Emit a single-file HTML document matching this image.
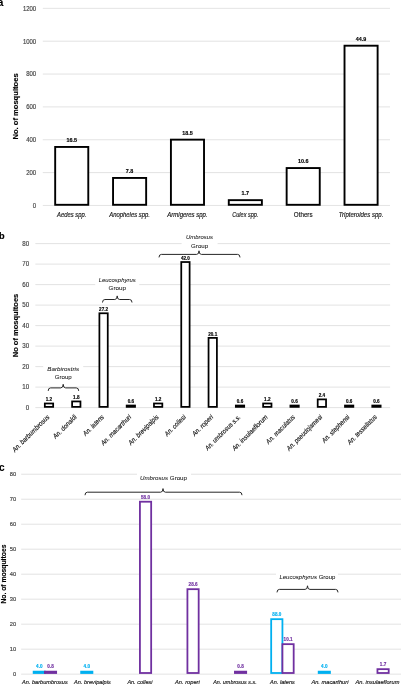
<!DOCTYPE html>
<html><head><meta charset="utf-8"><style>
html,body{margin:0;padding:0;background:#fff;}
body{width:401px;height:685px;overflow:hidden;}
svg{display:block;font-family:"Liberation Sans", sans-serif;will-change:transform;}
</style></head><body>
<svg width="401" height="685" viewBox="0 0 401 685">
<line x1="42.80" y1="205.45" x2="390.00" y2="205.45" stroke="#d9d9d9" stroke-width="0.75"/>
<text x="36.20" y="207.75" font-size="6.5" text-anchor="end" fill="#404040" stroke="#404040" stroke-width="0.15" textLength="3.33" lengthAdjust="spacingAndGlyphs" >0</text>
<line x1="42.80" y1="172.60" x2="390.00" y2="172.60" stroke="#d9d9d9" stroke-width="0.75"/>
<text x="36.20" y="174.90" font-size="6.5" text-anchor="end" fill="#404040" stroke="#404040" stroke-width="0.15" textLength="9.99" lengthAdjust="spacingAndGlyphs" >200</text>
<line x1="42.80" y1="139.75" x2="390.00" y2="139.75" stroke="#d9d9d9" stroke-width="0.75"/>
<text x="36.20" y="142.05" font-size="6.5" text-anchor="end" fill="#404040" stroke="#404040" stroke-width="0.15" textLength="9.99" lengthAdjust="spacingAndGlyphs" >400</text>
<line x1="42.80" y1="106.90" x2="390.00" y2="106.90" stroke="#d9d9d9" stroke-width="0.75"/>
<text x="36.20" y="109.20" font-size="6.5" text-anchor="end" fill="#404040" stroke="#404040" stroke-width="0.15" textLength="9.99" lengthAdjust="spacingAndGlyphs" >600</text>
<line x1="42.80" y1="74.05" x2="390.00" y2="74.05" stroke="#d9d9d9" stroke-width="0.75"/>
<text x="36.20" y="76.35" font-size="6.5" text-anchor="end" fill="#404040" stroke="#404040" stroke-width="0.15" textLength="9.99" lengthAdjust="spacingAndGlyphs" >800</text>
<line x1="42.80" y1="41.20" x2="390.00" y2="41.20" stroke="#d9d9d9" stroke-width="0.75"/>
<text x="36.20" y="43.50" font-size="6.5" text-anchor="end" fill="#404040" stroke="#404040" stroke-width="0.15" textLength="13.32" lengthAdjust="spacingAndGlyphs" >1000</text>
<line x1="42.80" y1="8.35" x2="390.00" y2="8.35" stroke="#d9d9d9" stroke-width="0.75"/>
<text x="36.20" y="10.65" font-size="6.5" text-anchor="end" fill="#404040" stroke="#404040" stroke-width="0.15" textLength="13.32" lengthAdjust="spacingAndGlyphs" >1200</text>
<text x="-2.60" y="5.70" font-size="10.5" text-anchor="start" font-weight="bold" fill="#000000" stroke="#000000" stroke-width="0.15" >a</text>
<text x="17.90" y="106.50" font-size="6.9" text-anchor="middle" font-weight="bold" fill="#000000" stroke="#000000" stroke-width="0.15" textLength="66.20" lengthAdjust="spacingAndGlyphs" transform="rotate(-90 17.90 106.50)" >No. of mosquitoes</text>
<rect x="55.18" y="146.95" width="33.10" height="57.85" fill="#fff" stroke="#000" stroke-width="1.9"/>
<text x="71.73" y="141.90" font-size="5.4" text-anchor="middle" font-weight="bold" fill="#000000" stroke="#000000" stroke-width="0.15" >16.5</text>
<text x="71.73" y="216.80" font-size="6.4" text-anchor="middle" font-style="italic" fill="#141414" stroke="#141414" stroke-width="0.15" textLength="29.30" lengthAdjust="spacingAndGlyphs" >Aedes spp.</text>
<rect x="113.05" y="177.95" width="33.10" height="26.85" fill="#fff" stroke="#000" stroke-width="1.9"/>
<text x="129.60" y="172.90" font-size="5.4" text-anchor="middle" font-weight="bold" fill="#000000" stroke="#000000" stroke-width="0.15" >7.8</text>
<text x="129.60" y="216.80" font-size="6.4" text-anchor="middle" font-style="italic" fill="#141414" stroke="#141414" stroke-width="0.15" textLength="40.80" lengthAdjust="spacingAndGlyphs" >Anopheles spp.</text>
<rect x="170.92" y="139.65" width="33.10" height="65.15" fill="#fff" stroke="#000" stroke-width="1.9"/>
<text x="187.47" y="134.60" font-size="5.4" text-anchor="middle" font-weight="bold" fill="#000000" stroke="#000000" stroke-width="0.15" >18.5</text>
<text x="187.47" y="216.80" font-size="6.4" text-anchor="middle" font-style="italic" fill="#141414" stroke="#141414" stroke-width="0.15" textLength="40.30" lengthAdjust="spacingAndGlyphs" >Armigeres spp.</text>
<rect x="228.78" y="200.15" width="33.10" height="4.65" fill="#fff" stroke="#000" stroke-width="1.9"/>
<text x="245.33" y="195.10" font-size="5.4" text-anchor="middle" font-weight="bold" fill="#000000" stroke="#000000" stroke-width="0.15" >1.7</text>
<text x="245.33" y="216.80" font-size="6.4" text-anchor="middle" font-style="italic" fill="#141414" stroke="#141414" stroke-width="0.15" textLength="26.10" lengthAdjust="spacingAndGlyphs" >Culex spp.</text>
<rect x="286.65" y="168.05" width="33.10" height="36.75" fill="#fff" stroke="#000" stroke-width="1.9"/>
<text x="303.20" y="163.00" font-size="5.4" text-anchor="middle" font-weight="bold" fill="#000000" stroke="#000000" stroke-width="0.15" >10.6</text>
<text x="303.20" y="216.80" font-size="6.4" text-anchor="middle" fill="#141414" stroke="#141414" stroke-width="0.15" textLength="18.70" lengthAdjust="spacingAndGlyphs" >Others</text>
<rect x="344.52" y="45.70" width="33.10" height="159.10" fill="#fff" stroke="#000" stroke-width="1.9"/>
<text x="361.07" y="40.65" font-size="5.4" text-anchor="middle" font-weight="bold" fill="#000000" stroke="#000000" stroke-width="0.15" >44.9</text>
<text x="361.07" y="216.80" font-size="6.4" text-anchor="middle" font-style="italic" fill="#141414" stroke="#141414" stroke-width="0.15" textLength="44.50" lengthAdjust="spacingAndGlyphs" >Tripteroides spp.</text>
<line x1="35.35" y1="407.60" x2="390.10" y2="407.60" stroke="#d9d9d9" stroke-width="0.75"/>
<text x="29.20" y="409.90" font-size="6.5" text-anchor="end" fill="#404040" stroke="#404040" stroke-width="0.15" textLength="3.45" lengthAdjust="spacingAndGlyphs" >0</text>
<line x1="35.35" y1="387.10" x2="390.10" y2="387.10" stroke="#d9d9d9" stroke-width="0.75"/>
<text x="29.20" y="389.40" font-size="6.5" text-anchor="end" fill="#404040" stroke="#404040" stroke-width="0.15" textLength="6.90" lengthAdjust="spacingAndGlyphs" >10</text>
<line x1="35.35" y1="366.60" x2="390.10" y2="366.60" stroke="#d9d9d9" stroke-width="0.75"/>
<text x="29.20" y="368.90" font-size="6.5" text-anchor="end" fill="#404040" stroke="#404040" stroke-width="0.15" textLength="6.90" lengthAdjust="spacingAndGlyphs" >20</text>
<line x1="35.35" y1="346.10" x2="390.10" y2="346.10" stroke="#d9d9d9" stroke-width="0.75"/>
<text x="29.20" y="348.40" font-size="6.5" text-anchor="end" fill="#404040" stroke="#404040" stroke-width="0.15" textLength="6.90" lengthAdjust="spacingAndGlyphs" >30</text>
<line x1="35.35" y1="325.60" x2="390.10" y2="325.60" stroke="#d9d9d9" stroke-width="0.75"/>
<text x="29.20" y="327.90" font-size="6.5" text-anchor="end" fill="#404040" stroke="#404040" stroke-width="0.15" textLength="6.90" lengthAdjust="spacingAndGlyphs" >40</text>
<line x1="35.35" y1="305.10" x2="390.10" y2="305.10" stroke="#d9d9d9" stroke-width="0.75"/>
<text x="29.20" y="307.40" font-size="6.5" text-anchor="end" fill="#404040" stroke="#404040" stroke-width="0.15" textLength="6.90" lengthAdjust="spacingAndGlyphs" >50</text>
<line x1="35.35" y1="284.60" x2="390.10" y2="284.60" stroke="#d9d9d9" stroke-width="0.75"/>
<text x="29.20" y="286.90" font-size="6.5" text-anchor="end" fill="#404040" stroke="#404040" stroke-width="0.15" textLength="6.90" lengthAdjust="spacingAndGlyphs" >60</text>
<line x1="35.35" y1="264.10" x2="390.10" y2="264.10" stroke="#d9d9d9" stroke-width="0.75"/>
<text x="29.20" y="266.40" font-size="6.5" text-anchor="end" fill="#404040" stroke="#404040" stroke-width="0.15" textLength="6.90" lengthAdjust="spacingAndGlyphs" >70</text>
<line x1="35.35" y1="243.60" x2="390.10" y2="243.60" stroke="#d9d9d9" stroke-width="0.75"/>
<text x="29.20" y="245.90" font-size="6.5" text-anchor="end" fill="#404040" stroke="#404040" stroke-width="0.15" textLength="6.90" lengthAdjust="spacingAndGlyphs" >80</text>
<text x="-1.00" y="238.70" font-size="9.2" text-anchor="start" font-weight="bold" fill="#000000" stroke="#000000" stroke-width="0.15" >b</text>
<text x="17.70" y="325.50" font-size="6.7" text-anchor="middle" font-weight="bold" fill="#000000" stroke="#000000" stroke-width="0.15" textLength="63.50" lengthAdjust="spacingAndGlyphs" transform="rotate(-90 17.70 325.50)" >No of mosquitoes</text>
<rect x="43.20" y="364.30" width="40.00" height="14.00" fill="#fff"/>
<text x="63.20" y="371.10" font-size="6.1" text-anchor="middle" font-style="italic" fill="#141414" stroke="#141414" stroke-width="0.05" textLength="31.80" lengthAdjust="spacingAndGlyphs" >Barbirostris</text>
<text x="63.20" y="379.30" font-size="6.1" text-anchor="middle" fill="#141414" stroke="#141414" stroke-width="0.05" textLength="16.90" lengthAdjust="spacingAndGlyphs" >Group</text>
<path d="M48.20,390.90 Q48.20,387.90 50.60,387.90 L60.80,387.90 Q63.20,387.90 63.20,384.30 Q63.20,387.90 65.60,387.90 L76.30,387.90 Q78.70,387.90 78.70,390.90" fill="none" stroke="#262626" stroke-width="1.0"/>
<rect x="95.20" y="275.50" width="44.00" height="14.00" fill="#fff"/>
<text x="117.20" y="282.30" font-size="6.1" text-anchor="middle" font-style="italic" fill="#141414" stroke="#141414" stroke-width="0.05" textLength="37.00" lengthAdjust="spacingAndGlyphs" >Leucosphyrus</text>
<text x="117.20" y="290.20" font-size="6.1" text-anchor="middle" fill="#141414" stroke="#141414" stroke-width="0.05" textLength="17.30" lengthAdjust="spacingAndGlyphs" >Group</text>
<path d="M102.50,302.50 Q102.50,299.50 104.90,299.50 L114.80,299.50 Q117.20,299.50 117.20,295.90 Q117.20,299.50 119.60,299.50 L129.60,299.50 Q132.00,299.50 132.00,302.50" fill="none" stroke="#262626" stroke-width="1.0"/>
<rect x="181.60" y="232.50" width="36.00" height="14.00" fill="#fff"/>
<text x="199.60" y="239.30" font-size="6.1" text-anchor="middle" font-style="italic" fill="#141414" stroke="#141414" stroke-width="0.05" textLength="27.00" lengthAdjust="spacingAndGlyphs" >Umbrosus</text>
<text x="199.60" y="247.70" font-size="6.1" text-anchor="middle" fill="#141414" stroke="#141414" stroke-width="0.05" textLength="17.00" lengthAdjust="spacingAndGlyphs" >Group</text>
<path d="M159.00,257.40 Q159.00,254.40 161.40,254.40 L196.60,254.40 Q199.00,254.40 199.00,250.80 Q199.00,254.40 201.40,254.40 L237.60,254.40 Q240.00,254.40 240.00,257.40" fill="none" stroke="#262626" stroke-width="1.0"/>
<rect x="44.82" y="403.48" width="8.35" height="3.40" fill="#fff" stroke="#000" stroke-width="1.75"/>
<text x="48.99" y="401.20" font-size="4.6" text-anchor="middle" font-weight="bold" fill="#000000" stroke="#000000" stroke-width="0.15" textLength="6.41" lengthAdjust="spacingAndGlyphs" >1.2</text>
<text x="49.89" y="417.50" font-size="6.8" text-anchor="end" font-style="italic" fill="#141414" stroke="#141414" stroke-width="0.15" textLength="49.45" lengthAdjust="spacingAndGlyphs" transform="rotate(-45 49.89 417.50)" >An. barbumbrosus</text>
<rect x="72.11" y="401.43" width="8.35" height="5.45" fill="#fff" stroke="#000" stroke-width="1.75"/>
<text x="76.28" y="399.15" font-size="4.6" text-anchor="middle" font-weight="bold" fill="#000000" stroke="#000000" stroke-width="0.15" textLength="6.41" lengthAdjust="spacingAndGlyphs" >1.8</text>
<text x="77.18" y="417.50" font-size="6.8" text-anchor="end" font-style="italic" fill="#141414" stroke="#141414" stroke-width="0.15" textLength="30.50" lengthAdjust="spacingAndGlyphs" transform="rotate(-45 77.18 417.50)" >An. donaldi</text>
<rect x="99.40" y="313.28" width="8.35" height="93.60" fill="#fff" stroke="#000" stroke-width="1.75"/>
<text x="103.57" y="311.00" font-size="4.6" text-anchor="middle" font-weight="bold" fill="#000000" stroke="#000000" stroke-width="0.15" textLength="8.94" lengthAdjust="spacingAndGlyphs" >27.2</text>
<text x="104.47" y="417.50" font-size="6.8" text-anchor="end" font-style="italic" fill="#141414" stroke="#141414" stroke-width="0.15" textLength="26.66" lengthAdjust="spacingAndGlyphs" transform="rotate(-45 104.47 417.50)" >An. latens</text>
<rect x="126.68" y="405.53" width="8.35" height="1.35" fill="#fff" stroke="#000" stroke-width="1.75"/>
<text x="130.86" y="403.25" font-size="4.6" text-anchor="middle" font-weight="bold" fill="#000000" stroke="#000000" stroke-width="0.15" textLength="6.41" lengthAdjust="spacingAndGlyphs" >0.6</text>
<text x="131.76" y="417.50" font-size="6.8" text-anchor="end" font-style="italic" fill="#141414" stroke="#141414" stroke-width="0.15" textLength="40.09" lengthAdjust="spacingAndGlyphs" transform="rotate(-45 131.76 417.50)" >An. macarthuri</text>
<rect x="153.97" y="403.48" width="8.35" height="3.40" fill="#fff" stroke="#000" stroke-width="1.75"/>
<text x="158.15" y="401.20" font-size="4.6" text-anchor="middle" font-weight="bold" fill="#000000" stroke="#000000" stroke-width="0.15" textLength="6.41" lengthAdjust="spacingAndGlyphs" >1.2</text>
<text x="159.05" y="417.50" font-size="6.8" text-anchor="end" font-style="italic" fill="#141414" stroke="#141414" stroke-width="0.15" textLength="39.69" lengthAdjust="spacingAndGlyphs" transform="rotate(-45 159.05 417.50)" >An. brevipalpis</text>
<rect x="181.26" y="262.03" width="8.35" height="144.85" fill="#fff" stroke="#000" stroke-width="1.75"/>
<text x="185.44" y="259.75" font-size="4.6" text-anchor="middle" font-weight="bold" fill="#000000" stroke="#000000" stroke-width="0.15" textLength="8.94" lengthAdjust="spacingAndGlyphs" >42.0</text>
<text x="186.34" y="417.50" font-size="6.8" text-anchor="end" font-style="italic" fill="#141414" stroke="#141414" stroke-width="0.15" textLength="27.11" lengthAdjust="spacingAndGlyphs" transform="rotate(-45 186.34 417.50)" >An. collesi</text>
<rect x="208.55" y="337.88" width="8.35" height="69.00" fill="#fff" stroke="#000" stroke-width="1.75"/>
<text x="212.72" y="335.60" font-size="4.6" text-anchor="middle" font-weight="bold" fill="#000000" stroke="#000000" stroke-width="0.15" textLength="8.94" lengthAdjust="spacingAndGlyphs" >20.1</text>
<text x="213.62" y="417.50" font-size="6.8" text-anchor="end" font-style="italic" fill="#141414" stroke="#141414" stroke-width="0.15" textLength="26.79" lengthAdjust="spacingAndGlyphs" transform="rotate(-45 213.62 417.50)" >An. roperi</text>
<rect x="235.84" y="405.53" width="8.35" height="1.35" fill="#fff" stroke="#000" stroke-width="1.75"/>
<text x="240.01" y="403.25" font-size="4.6" text-anchor="middle" font-weight="bold" fill="#000000" stroke="#000000" stroke-width="0.15" textLength="6.41" lengthAdjust="spacingAndGlyphs" >0.6</text>
<text x="240.91" y="417.50" font-size="6.8" text-anchor="end" font-style="italic" fill="#141414" stroke="#141414" stroke-width="0.15" textLength="47.03" lengthAdjust="spacingAndGlyphs" transform="rotate(-45 240.91 417.50)" >An. umbrosus s.s.</text>
<rect x="263.13" y="403.48" width="8.35" height="3.40" fill="#fff" stroke="#000" stroke-width="1.75"/>
<text x="267.30" y="401.20" font-size="4.6" text-anchor="middle" font-weight="bold" fill="#000000" stroke="#000000" stroke-width="0.15" textLength="6.41" lengthAdjust="spacingAndGlyphs" >1.2</text>
<text x="268.20" y="417.50" font-size="6.8" text-anchor="end" font-style="italic" fill="#141414" stroke="#141414" stroke-width="0.15" textLength="47.47" lengthAdjust="spacingAndGlyphs" transform="rotate(-45 268.20 417.50)" >An. insulaeflorum</text>
<rect x="290.42" y="405.53" width="8.35" height="1.35" fill="#fff" stroke="#000" stroke-width="1.75"/>
<text x="294.59" y="403.25" font-size="4.6" text-anchor="middle" font-weight="bold" fill="#000000" stroke="#000000" stroke-width="0.15" textLength="6.41" lengthAdjust="spacingAndGlyphs" >0.6</text>
<text x="295.49" y="417.50" font-size="6.8" text-anchor="end" font-style="italic" fill="#141414" stroke="#141414" stroke-width="0.15" textLength="38.06" lengthAdjust="spacingAndGlyphs" transform="rotate(-45 295.49 417.50)" >An. maculatus</text>
<rect x="317.70" y="399.38" width="8.35" height="7.50" fill="#fff" stroke="#000" stroke-width="1.75"/>
<text x="321.88" y="397.10" font-size="4.6" text-anchor="middle" font-weight="bold" fill="#000000" stroke="#000000" stroke-width="0.15" textLength="6.41" lengthAdjust="spacingAndGlyphs" >2.4</text>
<text x="322.78" y="417.50" font-size="6.8" text-anchor="end" font-style="italic" fill="#141414" stroke="#141414" stroke-width="0.15" textLength="47.57" lengthAdjust="spacingAndGlyphs" transform="rotate(-45 322.78 417.50)" >An. pseudojamesi</text>
<rect x="344.99" y="405.53" width="8.35" height="1.35" fill="#fff" stroke="#000" stroke-width="1.75"/>
<text x="349.17" y="403.25" font-size="4.6" text-anchor="middle" font-weight="bold" fill="#000000" stroke="#000000" stroke-width="0.15" textLength="6.41" lengthAdjust="spacingAndGlyphs" >0.6</text>
<text x="350.07" y="417.50" font-size="6.8" text-anchor="end" font-style="italic" fill="#141414" stroke="#141414" stroke-width="0.15" textLength="36.29" lengthAdjust="spacingAndGlyphs" transform="rotate(-45 350.07 417.50)" >An. stephensi</text>
<rect x="372.28" y="405.53" width="8.35" height="1.35" fill="#fff" stroke="#000" stroke-width="1.75"/>
<text x="376.46" y="403.25" font-size="4.6" text-anchor="middle" font-weight="bold" fill="#000000" stroke="#000000" stroke-width="0.15" textLength="6.41" lengthAdjust="spacingAndGlyphs" >0.6</text>
<text x="377.36" y="417.50" font-size="6.8" text-anchor="end" font-style="italic" fill="#141414" stroke="#141414" stroke-width="0.15" textLength="38.83" lengthAdjust="spacingAndGlyphs" transform="rotate(-45 377.36 417.50)" >An. tessellatus</text>
<line x1="21.15" y1="674.15" x2="401.20" y2="674.15" stroke="#d9d9d9" stroke-width="0.75"/>
<text x="16.10" y="676.15" font-size="5.6" text-anchor="end" fill="#404040" stroke="#404040" stroke-width="0.15" textLength="3.20" lengthAdjust="spacingAndGlyphs" >0</text>
<line x1="21.15" y1="649.16" x2="401.20" y2="649.16" stroke="#d9d9d9" stroke-width="0.75"/>
<text x="16.10" y="651.16" font-size="5.6" text-anchor="end" fill="#404040" stroke="#404040" stroke-width="0.15" textLength="6.40" lengthAdjust="spacingAndGlyphs" >10</text>
<line x1="21.15" y1="624.17" x2="401.20" y2="624.17" stroke="#d9d9d9" stroke-width="0.75"/>
<text x="16.10" y="626.17" font-size="5.6" text-anchor="end" fill="#404040" stroke="#404040" stroke-width="0.15" textLength="6.40" lengthAdjust="spacingAndGlyphs" >20</text>
<line x1="21.15" y1="599.18" x2="401.20" y2="599.18" stroke="#d9d9d9" stroke-width="0.75"/>
<text x="16.10" y="601.18" font-size="5.6" text-anchor="end" fill="#404040" stroke="#404040" stroke-width="0.15" textLength="6.40" lengthAdjust="spacingAndGlyphs" >30</text>
<line x1="21.15" y1="574.19" x2="401.20" y2="574.19" stroke="#d9d9d9" stroke-width="0.75"/>
<text x="16.10" y="576.19" font-size="5.6" text-anchor="end" fill="#404040" stroke="#404040" stroke-width="0.15" textLength="6.40" lengthAdjust="spacingAndGlyphs" >40</text>
<line x1="21.15" y1="549.20" x2="401.20" y2="549.20" stroke="#d9d9d9" stroke-width="0.75"/>
<text x="16.10" y="551.20" font-size="5.6" text-anchor="end" fill="#404040" stroke="#404040" stroke-width="0.15" textLength="6.40" lengthAdjust="spacingAndGlyphs" >50</text>
<line x1="21.15" y1="524.21" x2="401.20" y2="524.21" stroke="#d9d9d9" stroke-width="0.75"/>
<text x="16.10" y="526.21" font-size="5.6" text-anchor="end" fill="#404040" stroke="#404040" stroke-width="0.15" textLength="6.40" lengthAdjust="spacingAndGlyphs" >60</text>
<line x1="21.15" y1="499.22" x2="401.20" y2="499.22" stroke="#d9d9d9" stroke-width="0.75"/>
<text x="16.10" y="501.22" font-size="5.6" text-anchor="end" fill="#404040" stroke="#404040" stroke-width="0.15" textLength="6.40" lengthAdjust="spacingAndGlyphs" >70</text>
<line x1="21.15" y1="474.23" x2="401.20" y2="474.23" stroke="#d9d9d9" stroke-width="0.75"/>
<text x="16.10" y="476.23" font-size="5.6" text-anchor="end" fill="#404040" stroke="#404040" stroke-width="0.15" textLength="6.40" lengthAdjust="spacingAndGlyphs" >80</text>
<text x="-1.00" y="470.80" font-size="10" text-anchor="start" font-weight="bold" fill="#000000" stroke="#000000" stroke-width="0.15" >c</text>
<text x="5.90" y="574.10" font-size="6.6" text-anchor="middle" font-weight="bold" fill="#000000" stroke="#000000" stroke-width="0.15" textLength="59.00" lengthAdjust="spacingAndGlyphs" transform="rotate(-90 5.90 574.10)" >No. of mosquitoes</text>
<rect x="137" y="471.40" width="54" height="6" fill="#fff"/>
<text x="163.50" y="480.40" font-size="6.1" text-anchor="middle" fill="#141414" stroke="#141414" stroke-width="0.05" textLength="47.00" lengthAdjust="spacingAndGlyphs" ><tspan font-style="italic">Umbrosus</tspan> Group</text>
<path d="M85.00,495.20 Q85.00,492.20 87.40,492.20 L160.60,492.20 Q163.00,492.20 163.00,488.60 Q163.00,492.20 165.40,492.20 L239.60,492.20 Q242.00,492.20 242.00,495.20" fill="none" stroke="#262626" stroke-width="1.0"/>
<rect x="276" y="571.00" width="62" height="6" fill="#fff"/>
<text x="307.40" y="579.00" font-size="6.0" text-anchor="middle" fill="#141414" stroke="#141414" stroke-width="0.05" textLength="56.00" lengthAdjust="spacingAndGlyphs" ><tspan font-style="italic">Leucosphyrus</tspan> Group</text>
<path d="M277.00,592.40 Q277.00,589.40 279.40,589.40 L305.10,589.40 Q307.50,589.40 307.50,585.80 Q307.50,589.40 309.90,589.40 L335.60,589.40 Q338.00,589.40 338.00,592.40" fill="none" stroke="#262626" stroke-width="1.0"/>
<rect x="33.65" y="671.65" width="11.25" height="1.35" fill="#fff" stroke="#00b0f0" stroke-width="1.8"/>
<text x="39.28" y="668.45" font-size="4.6" text-anchor="middle" font-weight="bold" fill="#00b0f0" stroke="#00b0f0" stroke-width="0.15" textLength="6.41" lengthAdjust="spacingAndGlyphs" >4.0</text>
<rect x="44.90" y="671.65" width="11.25" height="1.35" fill="#fff" stroke="#7030a0" stroke-width="1.8"/>
<text x="50.53" y="668.45" font-size="4.6" text-anchor="middle" font-weight="bold" fill="#7030a0" stroke="#7030a0" stroke-width="0.15" textLength="6.41" lengthAdjust="spacingAndGlyphs" >0.8</text>
<text x="44.90" y="683.75" font-size="5.61" text-anchor="middle" font-style="italic" fill="#141414" stroke="#141414" stroke-width="0.15" textLength="45.70" lengthAdjust="spacingAndGlyphs" >An. barbumbrosus</text>
<rect x="81.16" y="671.65" width="11.25" height="1.35" fill="#fff" stroke="#00b0f0" stroke-width="1.8"/>
<text x="86.78" y="668.45" font-size="4.6" text-anchor="middle" font-weight="bold" fill="#00b0f0" stroke="#00b0f0" stroke-width="0.15" textLength="6.41" lengthAdjust="spacingAndGlyphs" >4.0</text>
<text x="92.41" y="683.75" font-size="5.61" text-anchor="middle" font-style="italic" fill="#141414" stroke="#141414" stroke-width="0.15" textLength="36.68" lengthAdjust="spacingAndGlyphs" >An. brevipalpis</text>
<rect x="139.92" y="501.72" width="11.25" height="171.28" fill="#fff" stroke="#7030a0" stroke-width="1.8"/>
<text x="145.54" y="498.52" font-size="4.6" text-anchor="middle" font-weight="bold" fill="#7030a0" stroke="#7030a0" stroke-width="0.15" textLength="8.94" lengthAdjust="spacingAndGlyphs" >58.0</text>
<text x="139.92" y="683.75" font-size="5.61" text-anchor="middle" font-style="italic" fill="#141414" stroke="#141414" stroke-width="0.15" textLength="25.06" lengthAdjust="spacingAndGlyphs" >An. collesi</text>
<rect x="187.42" y="589.18" width="11.25" height="83.82" fill="#fff" stroke="#7030a0" stroke-width="1.8"/>
<text x="193.05" y="585.98" font-size="4.6" text-anchor="middle" font-weight="bold" fill="#7030a0" stroke="#7030a0" stroke-width="0.15" textLength="8.94" lengthAdjust="spacingAndGlyphs" >28.6</text>
<text x="187.42" y="683.75" font-size="5.61" text-anchor="middle" font-style="italic" fill="#141414" stroke="#141414" stroke-width="0.15" textLength="24.76" lengthAdjust="spacingAndGlyphs" >An. roperi</text>
<rect x="234.93" y="671.65" width="11.25" height="1.35" fill="#fff" stroke="#7030a0" stroke-width="1.8"/>
<text x="240.55" y="668.45" font-size="4.6" text-anchor="middle" font-weight="bold" fill="#7030a0" stroke="#7030a0" stroke-width="0.15" textLength="6.41" lengthAdjust="spacingAndGlyphs" >0.8</text>
<text x="234.93" y="683.75" font-size="5.61" text-anchor="middle" font-style="italic" fill="#141414" stroke="#141414" stroke-width="0.15" textLength="43.47" lengthAdjust="spacingAndGlyphs" >An. umbrosus s.s.</text>
<rect x="271.18" y="619.17" width="11.25" height="53.83" fill="#fff" stroke="#00b0f0" stroke-width="1.8"/>
<text x="276.81" y="615.97" font-size="4.6" text-anchor="middle" font-weight="bold" fill="#00b0f0" stroke="#00b0f0" stroke-width="0.15" textLength="8.94" lengthAdjust="spacingAndGlyphs" >88.0</text>
<rect x="282.43" y="644.16" width="11.25" height="28.84" fill="#fff" stroke="#7030a0" stroke-width="1.8"/>
<text x="288.06" y="640.96" font-size="4.6" text-anchor="middle" font-weight="bold" fill="#7030a0" stroke="#7030a0" stroke-width="0.15" textLength="8.94" lengthAdjust="spacingAndGlyphs" >10.1</text>
<text x="282.43" y="683.75" font-size="5.61" text-anchor="middle" font-style="italic" fill="#141414" stroke="#141414" stroke-width="0.15" textLength="24.64" lengthAdjust="spacingAndGlyphs" >An. latens</text>
<rect x="318.69" y="671.65" width="11.25" height="1.35" fill="#fff" stroke="#00b0f0" stroke-width="1.8"/>
<text x="324.32" y="668.45" font-size="4.6" text-anchor="middle" font-weight="bold" fill="#00b0f0" stroke="#00b0f0" stroke-width="0.15" textLength="6.41" lengthAdjust="spacingAndGlyphs" >4.0</text>
<text x="329.94" y="683.75" font-size="5.61" text-anchor="middle" font-style="italic" fill="#141414" stroke="#141414" stroke-width="0.15" textLength="37.05" lengthAdjust="spacingAndGlyphs" >An. macarthuri</text>
<rect x="377.45" y="669.15" width="11.25" height="3.85" fill="#fff" stroke="#7030a0" stroke-width="1.8"/>
<text x="383.07" y="665.95" font-size="4.6" text-anchor="middle" font-weight="bold" fill="#7030a0" stroke="#7030a0" stroke-width="0.15" textLength="6.41" lengthAdjust="spacingAndGlyphs" >1.7</text>
<text x="377.45" y="683.75" font-size="5.61" text-anchor="middle" font-style="italic" fill="#141414" stroke="#141414" stroke-width="0.15" textLength="43.87" lengthAdjust="spacingAndGlyphs" >An. insulaeflorum</text>
</svg>
</body></html>
